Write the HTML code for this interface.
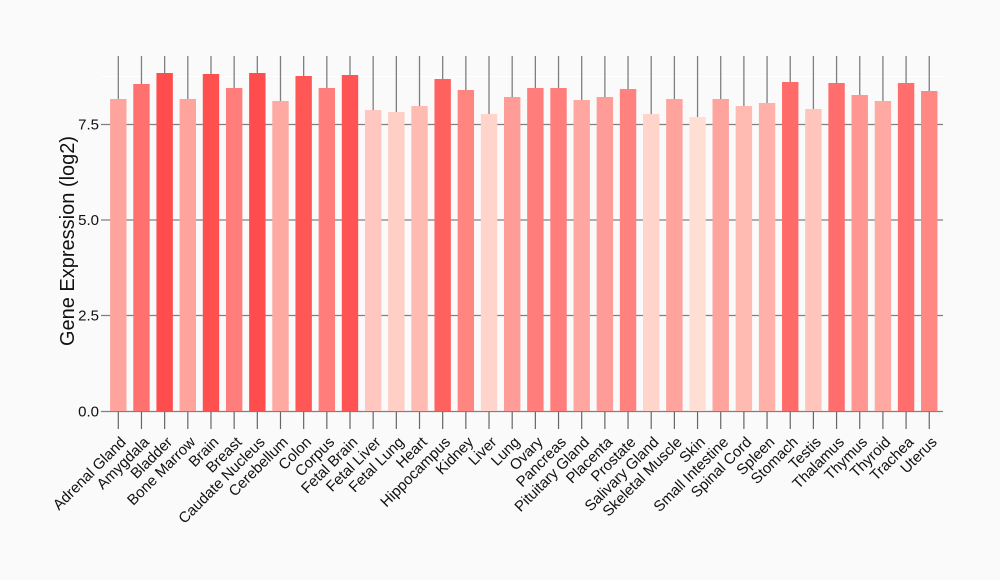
<!DOCTYPE html>
<html>
<head>
<meta charset="utf-8">
<style>
html,body{margin:0;padding:0;background:#fafafa;}
svg{display:block;}
text{font-family:"Liberation Sans",Arial,sans-serif;fill:#111;}
</style>
</head>
<body>
<svg width="1000" height="580" viewBox="0 0 1000 580" xmlns="http://www.w3.org/2000/svg">
<rect x="0" y="0" width="1000" height="580" fill="#fafafa"/>
<line x1="101" y1="76.5" x2="943" y2="76.5" stroke="#ffffff" stroke-width="1.2"/>
<g stroke="#808080" stroke-width="1.2">
<line x1="101" y1="124.5" x2="943" y2="124.5"/>
<line x1="101" y1="220" x2="943" y2="220"/>
<line x1="101" y1="315.5" x2="943" y2="315.5"/>
<line x1="101" y1="411.5" x2="943" y2="411.5"/>
</g>
<g font-size="15" text-anchor="end">
<text x="99" y="129.5">7.5</text>
<text x="99" y="225">5.0</text>
<text x="99" y="320.5">2.5</text>
<text x="99" y="416.5">0.0</text>
</g>
<text transform="translate(74,241) rotate(-90)" font-size="20" text-anchor="middle">Gene Expression (log2)</text>

<g stroke="#7f7f7f" stroke-width="1.3">
<line x1="118.30" y1="56" x2="118.30" y2="99"/>
<line x1="141.47" y1="56" x2="141.47" y2="84"/>
<line x1="164.64" y1="56" x2="164.64" y2="73"/>
<line x1="187.81" y1="56" x2="187.81" y2="99"/>
<line x1="210.98" y1="56" x2="210.98" y2="74"/>
<line x1="234.15" y1="56" x2="234.15" y2="88"/>
<line x1="257.32" y1="56" x2="257.32" y2="73"/>
<line x1="280.49" y1="56" x2="280.49" y2="101"/>
<line x1="303.66" y1="56" x2="303.66" y2="76"/>
<line x1="326.83" y1="56" x2="326.83" y2="88"/>
<line x1="350.00" y1="56" x2="350.00" y2="75"/>
<line x1="373.17" y1="56" x2="373.17" y2="110"/>
<line x1="396.34" y1="56" x2="396.34" y2="112"/>
<line x1="419.51" y1="56" x2="419.51" y2="106"/>
<line x1="442.68" y1="56" x2="442.68" y2="79"/>
<line x1="465.85" y1="56" x2="465.85" y2="90"/>
<line x1="489.02" y1="56" x2="489.02" y2="114"/>
<line x1="512.19" y1="56" x2="512.19" y2="97"/>
<line x1="535.36" y1="56" x2="535.36" y2="88"/>
<line x1="558.53" y1="56" x2="558.53" y2="88"/>
<line x1="581.70" y1="56" x2="581.70" y2="100"/>
<line x1="604.87" y1="56" x2="604.87" y2="97"/>
<line x1="628.04" y1="56" x2="628.04" y2="89"/>
<line x1="651.21" y1="56" x2="651.21" y2="114"/>
<line x1="674.38" y1="56" x2="674.38" y2="99"/>
<line x1="697.55" y1="56" x2="697.55" y2="117"/>
<line x1="720.72" y1="56" x2="720.72" y2="99"/>
<line x1="743.89" y1="56" x2="743.89" y2="106"/>
<line x1="767.06" y1="56" x2="767.06" y2="103"/>
<line x1="790.23" y1="56" x2="790.23" y2="82"/>
<line x1="813.40" y1="56" x2="813.40" y2="109"/>
<line x1="836.57" y1="56" x2="836.57" y2="83"/>
<line x1="859.74" y1="56" x2="859.74" y2="95"/>
<line x1="882.91" y1="56" x2="882.91" y2="101"/>
<line x1="906.08" y1="56" x2="906.08" y2="83"/>
<line x1="929.25" y1="56" x2="929.25" y2="91"/>
</g>

<g>
<rect x="110.10" y="99" width="16.4" height="312" fill="rgb(255,163,157)"/>
<rect x="133.27" y="84" width="16.4" height="327" fill="rgb(255,113,111)"/>
<rect x="156.44" y="73" width="16.4" height="338" fill="rgb(255,77,77)"/>
<rect x="179.61" y="99" width="16.4" height="312" fill="rgb(255,163,157)"/>
<rect x="202.78" y="74" width="16.4" height="337" fill="rgb(255,80,80)"/>
<rect x="225.95" y="88" width="16.4" height="323" fill="rgb(255,126,123)"/>
<rect x="249.12" y="73" width="16.4" height="338" fill="rgb(255,77,77)"/>
<rect x="272.29" y="101" width="16.4" height="310" fill="rgb(255,169,163)"/>
<rect x="295.46" y="76" width="16.4" height="335" fill="rgb(255,87,86)"/>
<rect x="318.63" y="88" width="16.4" height="323" fill="rgb(255,126,123)"/>
<rect x="341.80" y="75" width="16.4" height="336" fill="rgb(255,84,83)"/>
<rect x="364.97" y="110" width="16.4" height="301" fill="rgb(255,199,191)"/>
<rect x="388.14" y="112" width="16.4" height="299" fill="rgb(255,206,197)"/>
<rect x="411.31" y="106" width="16.4" height="305" fill="rgb(255,186,178)"/>
<rect x="434.48" y="79" width="16.4" height="332" fill="rgb(255,97,95)"/>
<rect x="457.65" y="90" width="16.4" height="321" fill="rgb(255,133,129)"/>
<rect x="480.82" y="114" width="16.4" height="297" fill="rgb(255,212,203)"/>
<rect x="503.99" y="97" width="16.4" height="314" fill="rgb(255,156,151)"/>
<rect x="527.16" y="88" width="16.4" height="323" fill="rgb(255,126,123)"/>
<rect x="550.33" y="88" width="16.4" height="323" fill="rgb(255,126,123)"/>
<rect x="573.50" y="100" width="16.4" height="311" fill="rgb(255,166,160)"/>
<rect x="596.67" y="97" width="16.4" height="314" fill="rgb(255,156,151)"/>
<rect x="619.84" y="89" width="16.4" height="322" fill="rgb(255,130,126)"/>
<rect x="643.01" y="114" width="16.4" height="297" fill="rgb(255,212,203)"/>
<rect x="666.18" y="99" width="16.4" height="312" fill="rgb(255,163,157)"/>
<rect x="689.35" y="117" width="16.4" height="294" fill="rgb(255,222,212)"/>
<rect x="712.52" y="99" width="16.4" height="312" fill="rgb(255,163,157)"/>
<rect x="735.69" y="106" width="16.4" height="305" fill="rgb(255,186,178)"/>
<rect x="758.86" y="103" width="16.4" height="308" fill="rgb(255,176,169)"/>
<rect x="782.03" y="82" width="16.4" height="329" fill="rgb(255,107,105)"/>
<rect x="805.20" y="109" width="16.4" height="302" fill="rgb(255,196,187)"/>
<rect x="828.37" y="83" width="16.4" height="328" fill="rgb(255,110,108)"/>
<rect x="851.54" y="95" width="16.4" height="316" fill="rgb(255,150,145)"/>
<rect x="874.71" y="101" width="16.4" height="310" fill="rgb(255,169,163)"/>
<rect x="897.88" y="83" width="16.4" height="328" fill="rgb(255,110,108)"/>
<rect x="921.05" y="91" width="16.4" height="320" fill="rgb(255,136,132)"/>
</g>

<g stroke="#666666" stroke-width="1.2">
<line x1="118.30" y1="412" x2="118.30" y2="429"/>
<line x1="141.47" y1="412" x2="141.47" y2="429"/>
<line x1="164.64" y1="412" x2="164.64" y2="429"/>
<line x1="187.81" y1="412" x2="187.81" y2="429"/>
<line x1="210.98" y1="412" x2="210.98" y2="429"/>
<line x1="234.15" y1="412" x2="234.15" y2="429"/>
<line x1="257.32" y1="412" x2="257.32" y2="429"/>
<line x1="280.49" y1="412" x2="280.49" y2="429"/>
<line x1="303.66" y1="412" x2="303.66" y2="429"/>
<line x1="326.83" y1="412" x2="326.83" y2="429"/>
<line x1="350.00" y1="412" x2="350.00" y2="429"/>
<line x1="373.17" y1="412" x2="373.17" y2="429"/>
<line x1="396.34" y1="412" x2="396.34" y2="429"/>
<line x1="419.51" y1="412" x2="419.51" y2="429"/>
<line x1="442.68" y1="412" x2="442.68" y2="429"/>
<line x1="465.85" y1="412" x2="465.85" y2="429"/>
<line x1="489.02" y1="412" x2="489.02" y2="429"/>
<line x1="512.19" y1="412" x2="512.19" y2="429"/>
<line x1="535.36" y1="412" x2="535.36" y2="429"/>
<line x1="558.53" y1="412" x2="558.53" y2="429"/>
<line x1="581.70" y1="412" x2="581.70" y2="429"/>
<line x1="604.87" y1="412" x2="604.87" y2="429"/>
<line x1="628.04" y1="412" x2="628.04" y2="429"/>
<line x1="651.21" y1="412" x2="651.21" y2="429"/>
<line x1="674.38" y1="412" x2="674.38" y2="429"/>
<line x1="697.55" y1="412" x2="697.55" y2="429"/>
<line x1="720.72" y1="412" x2="720.72" y2="429"/>
<line x1="743.89" y1="412" x2="743.89" y2="429"/>
<line x1="767.06" y1="412" x2="767.06" y2="429"/>
<line x1="790.23" y1="412" x2="790.23" y2="429"/>
<line x1="813.40" y1="412" x2="813.40" y2="429"/>
<line x1="836.57" y1="412" x2="836.57" y2="429"/>
<line x1="859.74" y1="412" x2="859.74" y2="429"/>
<line x1="882.91" y1="412" x2="882.91" y2="429"/>
<line x1="906.08" y1="412" x2="906.08" y2="429"/>
<line x1="929.25" y1="412" x2="929.25" y2="429"/>
</g>

<g font-size="15" text-anchor="end">
<text transform="translate(126.80,443) rotate(-45)">Adrenal Gland</text>
<text transform="translate(149.97,443) rotate(-45)">Amygdala</text>
<text transform="translate(173.14,443) rotate(-45)">Bladder</text>
<text transform="translate(196.31,443) rotate(-45)">Bone Marrow</text>
<text transform="translate(219.48,443) rotate(-45)">Brain</text>
<text transform="translate(242.65,443) rotate(-45)">Breast</text>
<text transform="translate(265.82,443) rotate(-45)">Caudate Nucleus</text>
<text transform="translate(288.99,443) rotate(-45)">Cerebellum</text>
<text transform="translate(312.16,443) rotate(-45)">Colon</text>
<text transform="translate(335.33,443) rotate(-45)">Corpus</text>
<text transform="translate(358.50,443) rotate(-45)">Fetal Brain</text>
<text transform="translate(381.67,443) rotate(-45)">Fetal Liver</text>
<text transform="translate(404.84,443) rotate(-45)">Fetal Lung</text>
<text transform="translate(428.01,443) rotate(-45)">Heart</text>
<text transform="translate(451.18,443) rotate(-45)">Hippocampus</text>
<text transform="translate(474.35,443) rotate(-45)">Kidney</text>
<text transform="translate(497.52,443) rotate(-45)">Liver</text>
<text transform="translate(520.69,443) rotate(-45)">Lung</text>
<text transform="translate(543.86,443) rotate(-45)">Ovary</text>
<text transform="translate(567.03,443) rotate(-45)">Pancreas</text>
<text transform="translate(590.20,443) rotate(-45)">Pituitary Gland</text>
<text transform="translate(613.37,443) rotate(-45)">Placenta</text>
<text transform="translate(636.54,443) rotate(-45)">Prostate</text>
<text transform="translate(659.71,443) rotate(-45)">Salivary Gland</text>
<text transform="translate(682.88,443) rotate(-45)">Skeletal Muscle</text>
<text transform="translate(706.05,443) rotate(-45)">Skin</text>
<text transform="translate(729.22,443) rotate(-45)">Small Intestine</text>
<text transform="translate(752.39,443) rotate(-45)">Spinal Cord</text>
<text transform="translate(775.56,443) rotate(-45)">Spleen</text>
<text transform="translate(798.73,443) rotate(-45)">Stomach</text>
<text transform="translate(821.90,443) rotate(-45)">Testis</text>
<text transform="translate(845.07,443) rotate(-45)">Thalamus</text>
<text transform="translate(868.24,443) rotate(-45)">Thymus</text>
<text transform="translate(891.41,443) rotate(-45)">Thyroid</text>
<text transform="translate(914.58,443) rotate(-45)">Trachea</text>
<text transform="translate(937.75,443) rotate(-45)">Uterus</text>
</g>
</svg>
</body>
</html>
